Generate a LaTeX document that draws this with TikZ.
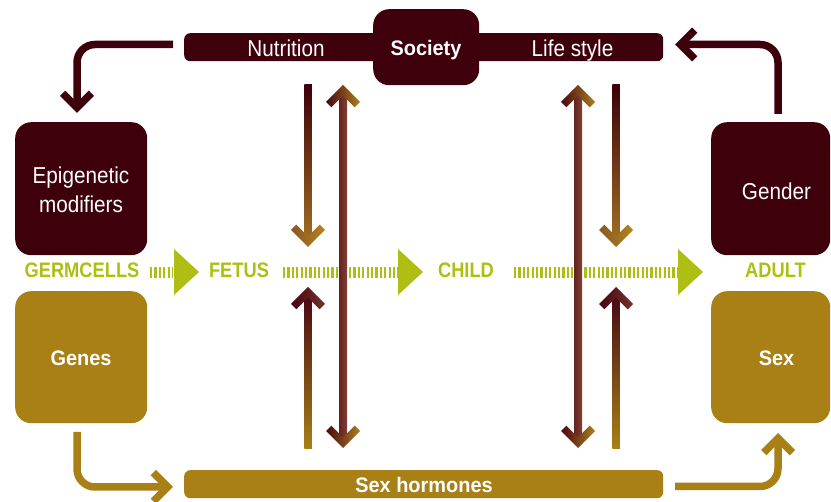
\documentclass[tikz,border=0pt]{standalone}
\usepackage{fontspec}
\setmainfont{Liberation Sans}
\newfontfamily\rfont{Liberation Sans}[FakeStretch=0.9]
\newfontfamily\bfont{Liberation Sans}[FakeStretch=0.95]
\newfontfamily\lfont{Liberation Sans}[FakeStretch=0.87]
\usetikzlibrary{calc}
\definecolor{maroon}{RGB}{62,0,10}
\definecolor{goldc}{RGB}{168,128,22}
\definecolor{limec}{RGB}{174,190,18}
\definecolor{brgold}{RGB}{158,108,34}
\definecolor{midbr}{RGB}{112,48,36}
\definecolor{shaftL}{RGB}{98,36,32}
\definecolor{shaftR}{RGB}{130,64,50}
\definecolor{headL}{RGB}{72,8,20}
\definecolor{headR}{RGB}{172,126,30}
\definecolor{chDL}{RGB}{138,88,36}
\definecolor{chDR}{RGB}{178,132,30}
\definecolor{chUL}{RGB}{70,4,20}
\definecolor{chUR}{RGB}{118,50,42}
\definecolor{topU}{RGB}{72,8,22}
% chevrons: tip at (#1,#2), options #3
\newcommand\chD[3]{\path[#3] (#1,#2) -- ++(-17,-17) -- ++(5.3,-5.3) -- ++(11.7,11.7) -- ++(11.7,-11.7) -- ++(5.3,5.3) -- cycle;}
\newcommand\chU[3]{\path[#3] (#1,#2) -- ++(-17,17) -- ++(5.3,5.3) -- ++(11.7,-11.7) -- ++(11.7,11.7) -- ++(5.3,-5.3) -- cycle;}
\newcommand\chL[3]{\path[#3] (#1,#2) -- ++(17,-17) -- ++(5.3,5.3) -- ++(-11.7,11.7) -- ++(11.7,11.7) -- ++(-5.3,5.3) -- cycle;}
\newcommand\chR[3]{\path[#3] (#1,#2) -- ++(-17,-17) -- ++(-5.3,5.3) -- ++(11.7,11.7) -- ++(-11.7,11.7) -- ++(5.3,5.3) -- cycle;}
\tikzset{
  bigbox/.style={rounded corners=16pt, inner sep=0pt, anchor=north west, draw=none},
  bar/.style={rounded corners=6pt, inner sep=0pt, anchor=north west, draw=none},
  txt/.style={text=white, anchor=base, inner sep=0pt, font=\rfont\fontsize{23}{28}\selectfont},
  btxt/.style={text=white, anchor=base, inner sep=0pt, font=\bfont\bfseries\fontsize{21}{25}\selectfont},
  lbl/.style={text=limec, anchor=base, inner sep=0pt, font=\lfont\bfseries\fontsize{21}{25}\selectfont},
  hatch/.style={draw=limec, line width=11pt, dash pattern=on 2.2pt off 2.2pt},
  conn/.style={line width=7.5pt, rounded corners=18pt},
}
\begin{document}
\begin{tikzpicture}[x=1pt,y=-1pt]
\useasboundingbox (0,0) rectangle (831,502);

% boxes
\node[bigbox, fill=maroon, minimum width=132pt, minimum height=133pt] (epi) at (15,122) {};
\node[bigbox, fill=goldc, minimum width=132pt, minimum height=132pt] (genes) at (15,291) {};
\node[bigbox, fill=maroon, minimum width=119pt, minimum height=133pt] (gender) at (711,122) {};
\node[bigbox, fill=goldc, minimum width=119pt, minimum height=132pt] (sex) at (711,291) {};
\node[bar, fill=maroon, minimum width=479pt, minimum height=28pt] (topbar) at (184,33) {};
\node[bigbox, fill=maroon, minimum width=106pt, minimum height=76pt] (soc) at (373,9) {};
\node[bar, fill=goldc, minimum width=479pt, minimum height=28pt] (botbar) at (184,470) {};

% texts
\node[txt] (tnut) at (286,57) {Nutrition};
\node[btxt] (tsoc) at (426,56) {Society};
\node[txt] (tlife) at (572.5,57) {Life style};
\node[txt] (tepi1) at (81,184) {Epigenetic};
\node[txt] (tepi2) at (81,213) {modifiers};
\node[txt] (tgender) at (776.5,200) {Gender};
\node[btxt] (tgenes) at (81,366) {Genes};
\node[btxt] (tsex) at (776.5,366) {Sex};
\node[btxt] (thorm) at (424,493) {Sex hormones};

% stage row
\node[lbl] (germ) at (82,278) {GERMCELLS};
\node[lbl] (fetus) at (239,278) {FETUS};
\node[lbl] (child) at (466,278) {CHILD};
\node[lbl] (adult) at (775.5,278) {ADULT};
\coordinate (h1a) at (150,272.5); \coordinate (h1b) at (173,272.5);
\coordinate (h2a) at (283,272.5); \coordinate (h2b) at (398,272.5);
\coordinate (h3a) at (514,272.5); \coordinate (h3b) at (677,272.5);
\draw[hatch] (h1a) -- (h1b);
\draw[hatch] (h2a) -- (h2b);
\draw[hatch] (h3a) -- (h3b);
\fill[limec] (174,249) -- (174,295) -- (199,272) -- cycle;
\fill[limec] (398,249) -- (398,295) -- (423,272) -- cycle;
\fill[limec] (678,249) -- (678,295) -- (703,272) -- cycle;

% connectors
\coordinate (c1a) at (173,44.5); \coordinate (c1b) at (77,104);
\draw[conn, maroon] (c1a) -| (c1b);
\chD{77}{113}{fill=maroon}
\coordinate (c2a) at (778,114); \coordinate (c2b) at (685,44.5);
\draw[conn, maroon] (c2a) |- (c2b);
\chL{675}{44.5}{fill=maroon}
\coordinate (c3a) at (77,432); \coordinate (c3b) at (163,487);
\draw[conn, goldc] (c3a) |- (c3b);
\chR{173}{487}{fill=goldc}
\coordinate (c4a) at (675,486.5); \coordinate (c4b) at (778,443);
\draw[conn, goldc] (c4a) -| (c4b);
\chU{778}{433}{fill=goldc}

% vertical arrows, left group
\shade[top color=maroon, middle color=midbr, bottom color=brgold] (304.25,85) rectangle (311.75,238);
\chD{308}{247}{left color=chDL, right color=chDR}
\shade[left color=shaftL, right color=shaftR] (339,94) rectangle (347,439);
\chU{343}{85}{left color=headL, right color=headR}
\chD{343}{448}{left color=headL, right color=headR}
\shade[top color=topU, middle color=midbr!70!goldc, bottom color=goldc] (304.25,296) rectangle (311.75,449);
\chU{308}{287}{left color=chUL, right color=chUR}

% vertical arrows, right group
\shade[top color=maroon, middle color=midbr, bottom color=brgold] (612.25,85) rectangle (619.75,238);
\chD{616}{247}{left color=chDL, right color=chDR}
\shade[left color=shaftL, right color=shaftR] (574,94) rectangle (582,439);
\chU{578}{85}{left color=headL, right color=headR}
\chD{578}{448}{left color=headL, right color=headR}
\shade[top color=topU, middle color=midbr!70!goldc, bottom color=goldc] (612.25,296) rectangle (619.75,449);
\chU{616}{287}{left color=chUL, right color=chUR}
\end{tikzpicture}
\end{document}
